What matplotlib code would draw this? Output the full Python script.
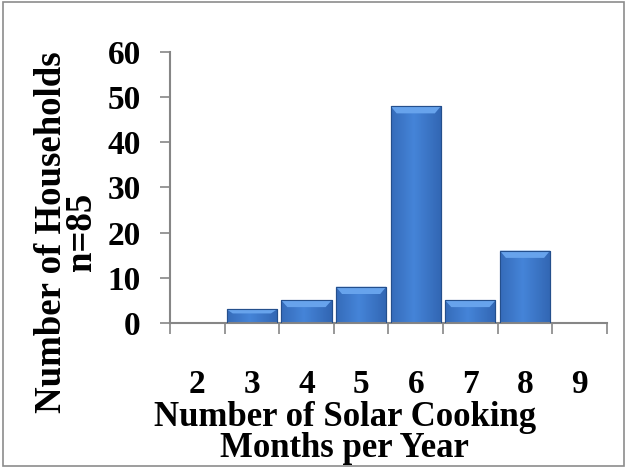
import numpy as np
import matplotlib.pyplot as plt
from matplotlib.patches import Polygon, Rectangle

months = [2, 3, 4, 5, 6, 7, 8, 9]
households = [0, 3, 5, 8, 48, 5, 16, 0]

plt.rcParams['font.family'] = ['Liberation Serif', 'DejaVu Serif']
plt.rcParams['font.weight'] = 'bold'

fig = plt.figure(figsize=(6.27, 4.68), dpi=100)
fig.patches.append(Rectangle((0.004, 0.004), 0.992, 0.992, transform=fig.transFigure,
                             fill=False, edgecolor='#8c8c8c', linewidth=1.2))
ax = fig.add_axes([0.271, 0.310, 0.697, 0.579])

x = np.arange(len(months))
bars = ax.bar(x, households, width=0.92, color='#3b72c4', edgecolor='#2a5596', linewidth=0.8, zorder=2)

# shading: darker sides, lighter middle, bevel on top
grad = np.linspace(0, 1, 64)
grad = 1 - 0.6 * np.abs(grad - 0.45) * 2
cmap = plt.matplotlib.colors.LinearSegmentedColormap.from_list('b', ['#2857a0', '#4584d8'])
for b, h in zip(bars, households):
    if h <= 0:
        continue
    x0, w = b.get_x(), b.get_width()
    im = ax.imshow(grad[np.newaxis, :], extent=(x0, x0 + w, 0, h), aspect='auto',
                   cmap=cmap, vmin=0, vmax=1, zorder=2.5)
    im.set_clip_path(b)
    bev = min(1.6, h * 0.3)
    dx = w * 0.12
    top = Polygon([(x0, h), (x0 + w, h), (x0 + w - dx, h - bev), (x0 + dx, h - bev)],
                  closed=True, facecolor='#67a3ec', edgecolor='none', zorder=3)
    ax.add_patch(top)
    ax.add_patch(Rectangle((x0, 0), w, h, fill=False, edgecolor='#244f8c', linewidth=0.8, zorder=3.5))

ax.set_xlim(-0.5, len(months) - 0.5)
ax.set_ylim(0, 60)
ax.set_yticks(range(0, 61, 10))
ax.set_xticks(x)
ax.set_xticklabels([str(m) for m in months])
ax.set_xticks(np.arange(-0.5, len(months), 1), minor=True)

for s in ['top', 'right']:
    ax.spines[s].set_visible(False)
for s in ['left', 'bottom']:
    ax.spines[s].set_color('#868686')
    ax.spines[s].set_linewidth(1.5)

ax.tick_params(axis='y', length=7, width=1.2, color='#868686', labelsize=24, pad=14)
ax.tick_params(axis='x', which='major', length=0, labelsize=24, pad=33)
ax.tick_params(axis='x', which='minor', length=8, width=1.2, color='#868686')

ax.set_ylabel('Number of Households\nn=85', fontsize=26.5, fontweight='bold', labelpad=6, linespacing=0.8)
ax.yaxis.label.set_y(0.335)
ax.set_xlabel('Number of Solar Cooking\nMonths per Year', fontsize=25, fontweight='bold', labelpad=1, linespacing=0.92)
ax.xaxis.label.set_x(0.40)

fig.savefig('out.png', dpi=100)
